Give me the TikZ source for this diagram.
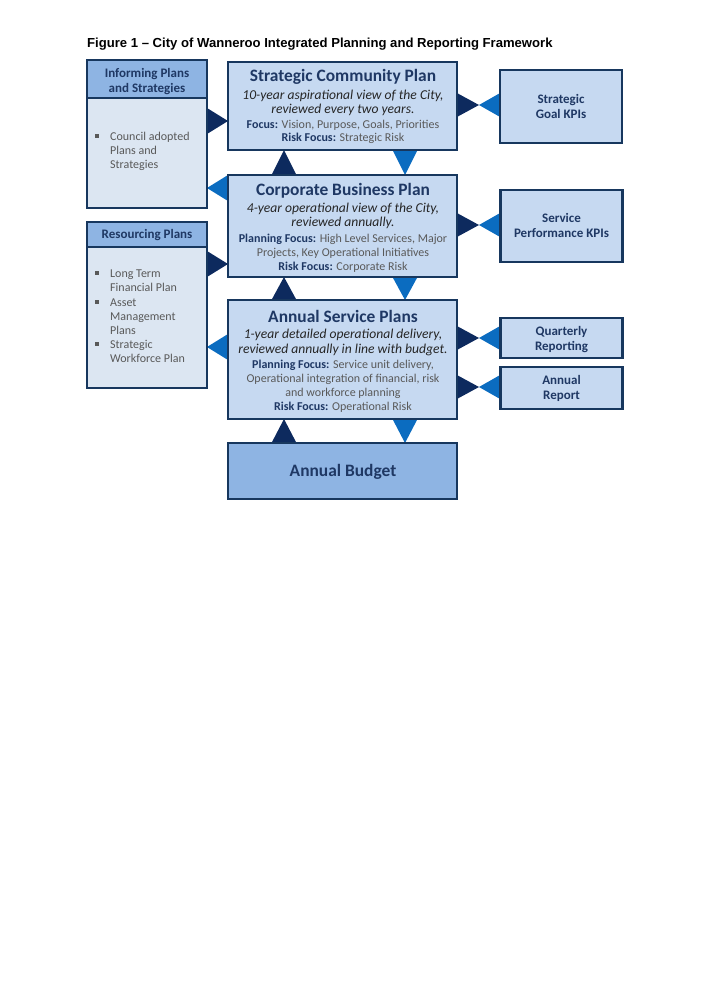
\documentclass[tikz,border=0pt]{standalone}
\usepackage{fontspec}
\setmainfont{Carlito}
\newfontfamily\arialf{Liberation Sans}
\definecolor{navy}{HTML}{17375E}
\definecolor{dkblue}{HTML}{0D2A5E}
\definecolor{ltblue}{HTML}{0B6CC0}
\definecolor{boxfill}{HTML}{C6D9F1}
\definecolor{pale}{HTML}{DCE6F2}
\definecolor{hdr}{HTML}{8EB4E3}
\definecolor{txtgrey}{HTML}{595959}
\definecolor{txtnavy}{HTML}{1F3864}
\newcommand\fb[1]{\textbf{\color{txtnavy}#1}}
\begin{document}
\begin{tikzpicture}[x=1pt,y=-1pt]
\useasboundingbox[fill=white] (0,0) rectangle (711,1005);
\tikzset{
  box/.style={draw=navy, line width=2.8pt, fill=boxfill, inner sep=0pt},
  frame/.style={draw=navy, line width=2.8pt, inner sep=0pt},
  t/.style={anchor=base, inner sep=0pt, text=txtgrey, font=\fontsize{12}{14}\selectfont},
  ti/.style={t, text=black!85, font=\fontsize{13.6}{15}\selectfont\itshape},
  tt/.style={t, text=txtnavy, font=\fontsize{17.4}{19}\selectfont\bfseries},
  kt/.style={t, text=txtnavy, font=\fontsize{13}{15}\selectfont\bfseries},
  li/.style={anchor=base west, inner sep=0pt, text=txtgrey, font=\fontsize{12}{14}\selectfont},
  bul/.style={fill=txtgrey, minimum size=3.5pt, inner sep=0pt},
  dk/.style={fill=dkblue},
  lt/.style={fill=ltblue}
}
% title
\node[anchor=base west, inner sep=0pt, font=\arialf\bfseries\fontsize{13.1}{15}\selectfont] (title) at (87,47) {Figure 1 – City of Wanneroo Integrated Planning and Reporting Framework};

% ---- triangles (drawn under boxes)
% left side
\fill[dk] (207,108) -- (228,121) -- (207,134) -- cycle;
\fill[lt] (228,175) -- (207,188) -- (228,201) -- cycle;
\fill[dk] (207,251) -- (228,264) -- (207,277) -- cycle;
\fill[lt] (228,334) -- (207,347) -- (228,360) -- cycle;
% vertical
\foreach \ya/\yb in {150/175, 277/300, 419/443}{
  \fill[dk] (271.5,\yb) -- (284,\ya) -- (296.5,\yb) -- cycle;
  \fill[lt] (392.5,\ya) -- (405,\yb) -- (417.5,\ya) -- cycle;
}
% right bow ties
\foreach \yc in {105, 225, 338, 387}{
  \fill[dk] (456,\yc-12.5) -- (479,\yc) -- (456,\yc+12.5) -- cycle;
  \fill[lt] (501,\yc-12.5) -- (479,\yc) -- (501,\yc+12.5) -- cycle;
}

% ---- Informing Plans and Strategies
\path[fill=pale] (87,60) rectangle (207,208);
\path[fill=hdr] (87,60) rectangle (207,98);
\draw[navy, line width=2.5pt] (87,98) -- (207,98);
\node[frame, minimum width=120, minimum height=148] (inf) at (147,134) {};
\node[kt] (inf1) at (147,77) {Informing Plans};
\node[kt] (inf2) at (147,92) {and Strategies};
\node[bul] (infb) at (97,136) {};
\node[li] (infl1) at (110,140) {Council adopted};
\node[li] (infl2) at (110,154) {Plans and};
\node[li] (infl3) at (110,168) {Strategies};

% ---- Resourcing Plans
\path[fill=pale] (87,222) rectangle (207,388);
\path[fill=hdr] (87,222) rectangle (207,247);
\draw[navy, line width=2.5pt] (87,247) -- (207,247);
\node[frame, minimum width=120, minimum height=166] (res) at (147,305) {};
\node[kt] (res1) at (147,238) {Resourcing Plans};
\node[bul] (resb1) at (97,273) {};
\node[bul] (resb2) at (97,302) {};
\node[bul] (resb3) at (97,344) {};
\node[li] (resl1) at (110,277) {Long Term};
\node[li] (resl2) at (110,291) {Financial Plan};
\node[li] (resl3) at (110,306) {Asset};
\node[li] (resl4) at (110,320) {Management};
\node[li] (resl5) at (110,334) {Plans};
\node[li] (resl6) at (110,348) {Strategic};
\node[li] (resl7) at (110,362) {Workforce Plan};

% ---- Strategic Community Plan
\node[box, minimum width=229, minimum height=88] (scp) at (342.5,106) {};
\node[tt] (scp0) at (343,81) {Strategic Community Plan};
\node[ti] (scp1) at (343,99) {10-year aspirational view of the City,};
\node[ti] (scp2) at (343,113) {reviewed every two years.};
\node[t] (scp3) at (343,128) {\fb{Focus:} Vision, Purpose, Goals, Priorities};
\node[t] (scp4) at (343,141) {\fb{Risk Focus:} Strategic Risk};

% ---- Corporate Business Plan
\node[box, minimum width=229, minimum height=102] (cbp) at (342.5,226) {};
\node[tt] (cbp0) at (343,195) {Corporate Business Plan};
\node[ti] (cbp1) at (343,212) {4-year operational view of the City,};
\node[ti] (cbp2) at (343,226) {reviewed annually.};
\node[t] (cbp3) at (343,242) {\fb{Planning Focus:} High Level Services, Major};
\node[t] (cbp4) at (343,256) {Projects, Key Operational Initiatives};
\node[t] (cbp5) at (343,270) {\fb{Risk Focus:} Corporate Risk};

% ---- Annual Service Plans
\node[box, minimum width=229, minimum height=119] (asp) at (342.5,359.5) {};
\node[tt] (asp0) at (343,322) {Annual Service Plans};
\node[ti] (asp1) at (343,338) {1-year detailed operational delivery,};
\node[ti] (asp2) at (343,353) {reviewed annually in line with budget.};
\node[t] (asp3) at (343,368) {\fb{Planning Focus:} Service unit delivery,};
\node[t] (asp4) at (343,382) {Operational integration of financial, risk};
\node[t] (asp5) at (343,396) {and workforce planning};
\node[t] (asp6) at (343,410) {\fb{Risk Focus:} Operational Risk};

% ---- Annual Budget
\node[box, fill=hdr, minimum width=229, minimum height=56] (bud) at (342.5,471) {};
\node[tt] (bud0) at (343,476) {Annual Budget};

% ---- right boxes
\node[box, minimum width=122, minimum height=73] (sgk) at (561,106.5) {};
\node[kt] (sgk1) at (561,103) {Strategic};
\node[kt] (sgk2) at (561,118) {Goal KPIs};
\node[box, minimum width=122, minimum height=72] (spk) at (561.5,226) {};
\node[kt] (spk1) at (561.5,222) {Service};
\node[kt] (spk2) at (561.5,237) {Performance KPIs};
\node[box, minimum width=122, minimum height=40] (qr) at (561.5,338) {};
\node[kt] (qr1) at (561.5,335) {Quarterly};
\node[kt] (qr2) at (561.5,350) {Reporting};
\node[box, minimum width=122, minimum height=42] (ar) at (561.5,388) {};
\node[kt] (ar1) at (561.5,384) {Annual};
\node[kt] (ar2) at (561.5,399) {Report};
\end{tikzpicture}
\end{document}
